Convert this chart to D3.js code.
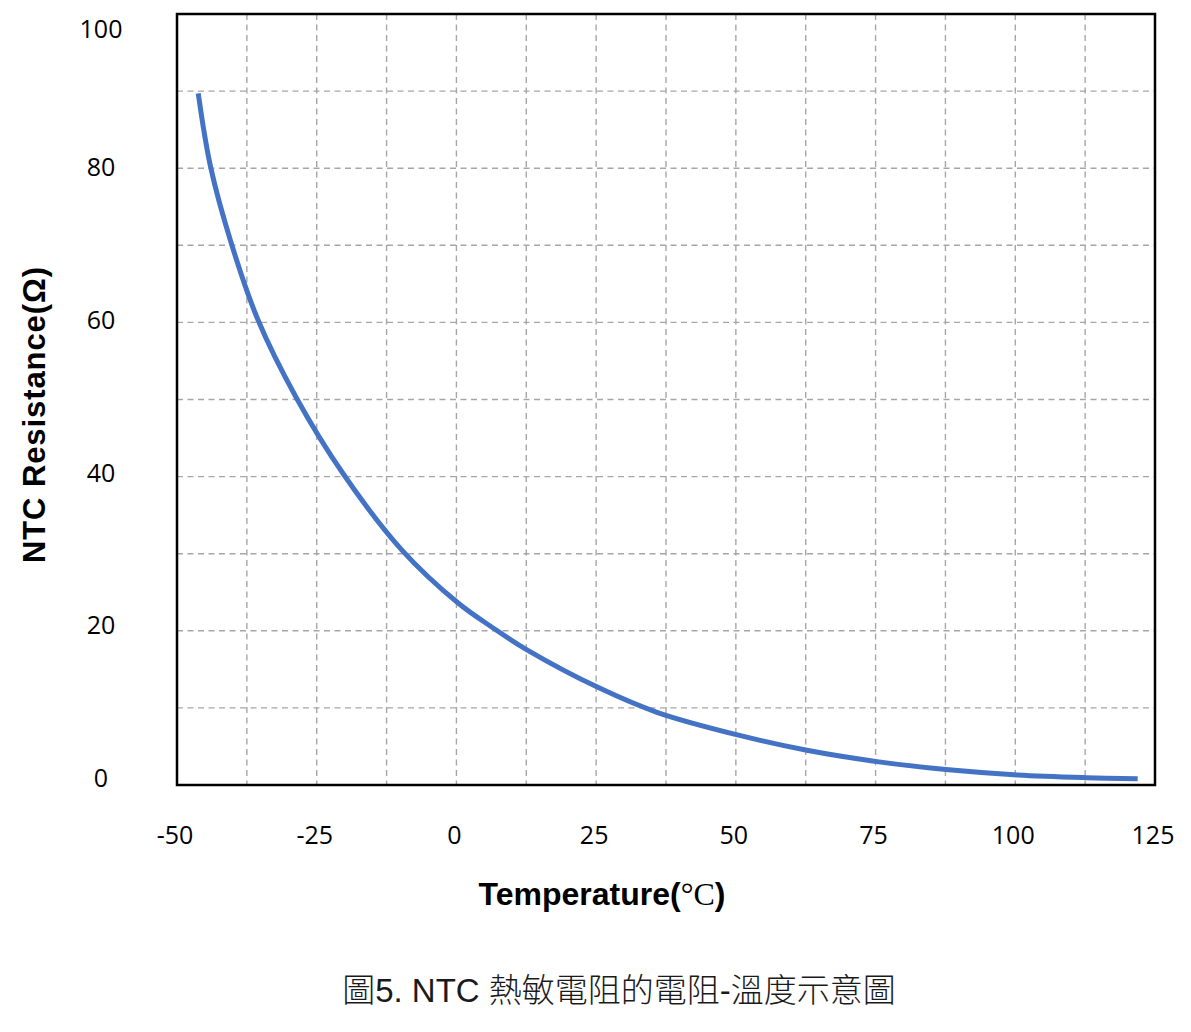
<!DOCTYPE html>
<html>
<head>
<meta charset="utf-8">
<script src="https://cdn.jsdelivr.net/npm/d3@7"></script>
<style>
  html, body { margin: 0; padding: 0; background: #fff; }
  svg { display: block; }
</style>
</head>
<body>
<svg id="chart" width="1191" height="1032"></svg>
<script>
// ---- data ----
const temperatures = [-46.2, -44.0, -40.3, -35.5, -28.7, -20.2, -9.8, 0.3, 6.3, 12.7, 25.5, 36.0, 50.3, 62.7, 75.6, 87.6, 100.4, 112.7, 121.9];
const resistances  = [89.7, 80.2, 70.3, 60.3, 50.3, 40.3, 30.5, 23.6, 20.5, 17.5, 12.6, 9.4, 6.5, 4.5, 3.0, 2.0, 1.3, 0.95, 0.8];
const xTickLabels = [-50, -25, 0, 25, 50, 75, 100, 125];
const yTickLabels = [0, 20, 40, 60, 80, 100];
const xGridStep = 12.5;
const yGridStep = 10;
const xTitle = "Temperature(";
const xTitleUnit = "\u00B0C";
const yTitle = "NTC Resistance(\u03A9)";
const caption = "圖5. NTC 熱敏電阻的電阻-溫度示意圖";

// ---- layout ----
const plot = { left: 177, top: 14, right: 1155, bottom: 785 };
const svg = d3.select("#chart");

const x = d3.scaleLinear().domain([-50, 125]).range([plot.left, plot.right]);
const y = d3.scaleLinear().domain([0, 100]).range([plot.bottom, plot.top]);
// tick labels sit slightly above their gridlines in the original
const yLabel = d3.scaleLinear().domain([0, 80]).range([777, 166]);

// grid
const grid = svg.append("g").attr("stroke", "#a6a6a6").attr("stroke-width", 1.4)
  .attr("stroke-dasharray", "6,4.5").attr("fill", "none");
const xGrid = d3.range(-50 + xGridStep, 125 - 0.001, xGridStep);
const yGrid = d3.range(yGridStep, 100 - 0.001, yGridStep);
grid.selectAll("line.v").data(xGrid).join("line").attr("class", "v")
  .attr("x1", d => x(d)).attr("x2", d => x(d))
  .attr("y1", plot.top).attr("y2", plot.bottom);
grid.selectAll("line.h").data(yGrid).join("line").attr("class", "h")
  .attr("x1", plot.left).attr("x2", plot.right)
  .attr("y1", d => y(d)).attr("y2", d => y(d));

// curve
const pts = temperatures.map((t, i) => [t, resistances[i]]);
const line = d3.line().x(d => x(d[0])).y(d => y(d[1])).curve(d3.curveCatmullRom.alpha(0.5));
svg.append("path").datum(pts).attr("d", line)
  .attr("fill", "none").attr("stroke", "#4472C4").attr("stroke-width", 5)
  .attr("stroke-linecap", "butt");

// frame
svg.append("rect")
  .attr("x", plot.left).attr("y", plot.top)
  .attr("width", plot.right - plot.left).attr("height", plot.bottom - plot.top)
  .attr("fill", "none").attr("stroke", "#000").attr("stroke-width", 2.5);

// tick labels
const tickFont = "'Open Sans', 'DejaVu Sans', sans-serif";
svg.append("g").selectAll("text").data(xTickLabels).join("text")
  .attr("x", d => x(d) - 2).attr("y", 844)
  .attr("text-anchor", "middle")
  .attr("font-family", tickFont).attr("font-size", 25).attr("fill", "#000")
  .text(d => d);

svg.append("g").selectAll("text").data(yTickLabels).join("text")
  .attr("x", 101).attr("y", d => Math.max(yLabel(d), 28))
  .attr("text-anchor", "middle").attr("dominant-baseline", "central")
  .attr("font-family", tickFont).attr("font-size", 25).attr("fill", "#000")
  .text(d => d);

// axis titles
const titleFont = "'Liberation Sans', Arial, sans-serif";
const xt = svg.append("text")
  .attr("x", 602).attr("y", 905)
  .attr("text-anchor", "middle")
  .attr("font-family", titleFont).attr("font-size", 32).attr("font-weight", "bold")
  .attr("fill", "#000");
xt.append("tspan").text(xTitle);
xt.append("tspan").attr("font-family", "'Liberation Serif', 'Times New Roman', serif")
  .attr("font-weight", "normal").text(xTitleUnit);
xt.append("tspan").text(")");

svg.append("text")
  .attr("transform", "translate(45,415) rotate(-90)")
  .attr("text-anchor", "middle")
  .attr("font-family", titleFont).attr("font-size", 31).attr("font-weight", "bold")
  .attr("textLength", 296).attr("lengthAdjust", "spacing")
  .attr("fill", "#000")
  .text(yTitle);

// caption
svg.append("text")
  .attr("x", 619).attr("y", 1002)
  .attr("text-anchor", "middle")
  .attr("font-family", "'Liberation Sans', 'Noto Sans CJK TC', sans-serif")
  .attr("font-size", 33).attr("font-weight", 300).attr("fill", "#1a1a1a")
  .text(caption);
</script>
</body>
</html>
